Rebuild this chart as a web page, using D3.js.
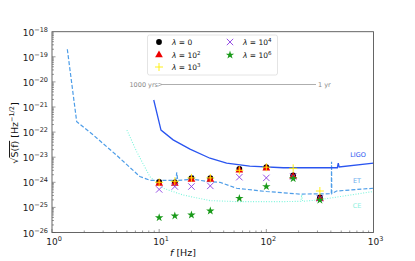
<!DOCTYPE html>
<html><head><meta charset="utf-8">
<script src="https://cdn.jsdelivr.net/npm/d3@7"></script>
<style>
body{margin:0;background:#fff;}
svg{font-family:"DejaVu Sans",sans-serif;}
</style></head>
<body><svg id="c" width="415" height="261"></svg>
<script>
// ---- data ----
const freqs = [10, 14, 20, 30, 56, 100, 178, 316];
const lam0   = [1.05e-24, 1.0e-24, 1.45e-24, 1.45e-24, 3.4e-24, 4.0e-24, 1.9e-24, 2.5e-25];
const lam1e2 = [0.9e-24, 0.9e-24, 1.3e-24, 1.3e-24, 3.0e-24, 3.6e-24, 1.7e-24, 2.2e-25];
const lam1e3 = [1.0e-24, 1.1e-24, 1.5e-24, 1.5e-24, 3.0e-24, 4.0e-24, 3.6e-24, 4.5e-25];
const lam1e4 = [5.2e-25, 6.8e-25, 6.8e-25, 7.2e-25, 1.6e-24, 1.5e-24, 1.7e-24, 2.3e-25];
const lam1e6 = [3.9e-26, 4.6e-26, 5.0e-26, 7.2e-26, 2.3e-25, 6.8e-25, 1.4e-24, 1.95e-25];

const ligoF = [8.9, 10.4, 13.5, 19.4, 29.8, 42.6, 70, 144, 406, 460, 469, 478, 1000];
const ligoS = [1.9e-21, 1.2e-22, 4.9e-23, 2.1e-23, 9.1e-24, 5.8e-24, 4.4e-24, 3.8e-24, 3.8e-24, 3.8e-24, 5.8e-24, 4.1e-24, 5.8e-24];
const etF = [1.39, 1.7, 2.43, 4.0, 6.6, 8.2, 14.3, 14.6, 14.9, 20.5, 20.8, 21.1, 29.8, 36.9, 52.8, 100, 206, 404, 406, 408, 453, 1000];
const etS = [2.0e-19, 2.6e-22, 7.6e-23, 1.2e-23, 1.7e-24, 1.2e-24, 1.2e-24, 2.5e-24, 1.2e-24, 1.3e-24, 1.9e-24, 1.3e-24, 1.05e-24, 1.0e-24, 5.8e-25, 4.3e-25, 3.4e-25, 3.5e-25, 6.6e-24, 3.5e-25, 4.5e-25, 5.8e-25];
const ceF = [5.0, 6.17, 8.2, 10.9, 16.8, 29.8, 52.8, 144, 210, 214, 218, 295, 1000];
const ceS = [1.2e-22, 1.66e-23, 1.66e-24, 5.8e-25, 3.1e-25, 1.86e-25, 1.7e-25, 1.7e-25, 1.75e-25, 3.2e-25, 1.75e-25, 1.95e-25, 4.3e-25];

const xTicks = [0, 1, 2, 3];
const yTicks = [-18, -19, -20, -21, -22, -23, -24, -25, -26];
const legendItems = [
  {label: "0", sup: null, sym: "circle"},
  {label: "10", sup: "2", sym: "triangle"},
  {label: "10", sup: "3", sym: "plus"},
  {label: "10", sup: "4", sym: "x"},
  {label: "10", sup: "6", sym: "star"}
];

// ---- layout ----
const svg = d3.select("#c");
const L = 52, R = 373.5, T = 31.7, B = 232.5;
const x = d3.scaleLog().domain([1, 1000]).range([L, R]);
const y = d3.scaleLog().domain([1e-26, 1e-18]).range([B, T]);

const axisCol = "#555";
// ticks (inward)
const g = svg.append("g");
// minor/major x ticks
for (let d = 0; d < 3; d++) {
  for (let m = 1; m < 10; m++) {
    const v = m * Math.pow(10, d);
    const len = m === 1 ? 3.5 : 2;
    g.append("line").attr("x1", x(v)).attr("x2", x(v)).attr("y1", B).attr("y2", B - len)
      .attr("stroke", axisCol).attr("stroke-width", 0.6);
  }
}
for (let d = -26; d < -18; d++) {
  for (let m = 1; m < 10; m++) {
    const v = m * Math.pow(10, d);
    const len = m === 1 ? 3.5 : 2;
    g.append("line").attr("x1", L).attr("x2", L + len).attr("y1", y(v)).attr("y2", y(v))
      .attr("stroke", axisCol).attr("stroke-width", 0.6);
  }
}
// tick labels
xTicks.forEach(e => {
  const t = svg.append("text").attr("x", x(Math.pow(10, e)) + 2).attr("y", 245)
    .attr("text-anchor", "middle").attr("font-size", 9).attr("fill", "#222");
  t.append("tspan").text("10");
  t.append("tspan").attr("dy", -4).attr("font-size", 6.5).text(e);
});
yTicks.forEach(e => {
  const t = svg.append("text").attr("x", 48).attr("y", y(Math.pow(10, e)) + 4)
    .attr("text-anchor", "end").attr("font-size", 9).attr("fill", "#222");
  t.append("tspan").text("10");
  t.append("tspan").attr("dy", -4).attr("font-size", 6.5).text("\u2212" + (-e));
});

// clip
svg.append("clipPath").attr("id", "clip").append("rect")
  .attr("x", L).attr("y", T).attr("width", R - L).attr("height", B - T);
const plot = svg.append("g").attr("clip-path", "url(#clip)");

const line = d3.line().x(d => x(d[0])).y(d => y(d[1]));
plot.append("path").datum(d3.zip(ceF, ceS)).attr("d", line).attr("fill", "none")
  .attr("stroke", "#7cf5dc").attr("stroke-width", 1.1).attr("stroke-dasharray", "1,1.6");
plot.append("path").datum(d3.zip(etF, etS)).attr("d", line).attr("fill", "none")
  .attr("stroke", "#4d9de8").attr("stroke-width", 1.2).attr("stroke-dasharray", "4,2");
plot.append("path").datum(d3.zip(ligoF, ligoS)).attr("d", line).attr("fill", "none")
  .attr("stroke", "#2a55f0").attr("stroke-width", 1.3);

// curve labels
svg.append("text").attr("x", 358).attr("y", 157).attr("text-anchor", "middle").attr("font-size", 6.5).attr("fill", "#2a55f0").text("LIGO");
svg.append("text").attr("x", 357).attr("y", 183).attr("text-anchor", "middle").attr("font-size", 6.5).attr("fill", "#6aaeee").text("ET");
svg.append("text").attr("x", 357).attr("y", 208).attr("text-anchor", "middle").attr("font-size", 6.5).attr("fill", "#8ef0de").text("CE");

// arrow
svg.append("defs").append("marker").attr("id", "ah").attr("viewBox", "0 0 10 10")
  .attr("refX", 0).attr("refY", 5).attr("markerWidth", 5).attr("markerHeight", 5).attr("orient", "auto")
  .append("path").attr("d", "M10,1 L0,5 L10,9").attr("fill", "none").attr("stroke", "#888").attr("stroke-width", 1.5);
svg.append("line").attr("x1", 316).attr("x2", 162).attr("y1", 84.5).attr("y2", 84.5)
  .attr("stroke", "#999").attr("stroke-width", 0.8).attr("marker-end", "url(#ah)");
svg.append("text").attr("x", 158).attr("y", 87).attr("text-anchor", "end").attr("font-size", 6.5).attr("fill", "#888").text("1000 yrs");
svg.append("text").attr("x", 318).attr("y", 87).attr("font-size", 6.5).attr("fill", "#888").text("1 yr");

// markers
const symGen = {
  circle: () => d3.symbol(d3.symbolCircle, 26)(),
  triangle: () => d3.symbol(d3.symbolTriangle, 26)(),
  plus: () => "M-4,0H4M0,-4V4",
  x: () => "M-3.2,-3.2L3.2,3.2M-3.2,3.2L3.2,-3.2",
  star: () => d3.symbol(d3.symbolStar, 22)()
};
const symStyle = {
  circle: {fill: "#000", stroke: "none"},
  triangle: {fill: "#ee0000", stroke: "none"},
  plus: {fill: "none", stroke: "#ffee00", sw: 0.9},
  x: {fill: "none", stroke: "#8a3be2", sw: 0.9},
  star: {fill: "#1a9a1a", stroke: "none"}
};
function drawSym(sel, sym, px, py) {
  const st = symStyle[sym];
  sel.append("path").attr("d", symGen[sym]()).attr("transform", `translate(${px},${py})`)
    .attr("fill", st.fill).attr("stroke", st.stroke).attr("stroke-width", st.sw || 0);
}
const series = [[lam0, "circle"], [lam1e2, "triangle"], [lam1e3, "plus"], [lam1e4, "x"], [lam1e6, "star"]];
series.forEach(([vals, sym]) => {
  vals.forEach((v, i) => drawSym(plot, sym, x(freqs[i]), y(v)));
});

// frame
svg.append("rect").attr("x", L).attr("y", T).attr("width", R - L).attr("height", B - T)
  .attr("fill", "none").attr("stroke", axisCol).attr("stroke-width", 0.9);

// legend
const lg = svg.append("g");
lg.append("rect").attr("x", 147.5).attr("y", 35).attr("width", 130).attr("height", 40).attr("rx", 2)
  .attr("fill", "#fff").attr("fill-opacity", 0.85).attr("stroke", "#ddd").attr("stroke-width", 0.8);
const pos = [[159, 42], [159, 55], [159, 67], [230, 42], [230, 55]];
legendItems.forEach((it, i) => {
  const [mx, my] = pos[i];
  drawSym(lg, it.sym, mx, my);
  const t = lg.append("text").attr("x", mx + 13).attr("y", my + 3).attr("font-size", 7.5).attr("fill", "#111");
  t.append("tspan").attr("font-style", "italic").text("\u03bb");
  t.append("tspan").text(" = " + it.label);
  if (it.sup) t.append("tspan").attr("dy", -3.5).attr("font-size", 5.5).text(it.sup);
});

// axis titles
const xt = svg.append("text").attr("x", 183).attr("y", 256).attr("text-anchor", "middle").attr("font-size", 9.5).attr("fill", "#111");
xt.append("tspan").attr("font-style", "italic").text("f");
xt.append("tspan").text(" [Hz]");
const yt = svg.append("text").attr("transform", "translate(18,133) rotate(-90)").attr("text-anchor", "middle").attr("font-size", 9.5).attr("fill", "#111");
yt.append("tspan").text("\u221a");
yt.append("tspan").attr("text-decoration", "overline").text("S(f)");
yt.append("tspan").text("  [Hz");
yt.append("tspan").attr("dy", -4).attr("font-size", 6.5).text("\u22121/2");
yt.append("tspan").attr("dy", 4).text("]");
</script></body></html>
